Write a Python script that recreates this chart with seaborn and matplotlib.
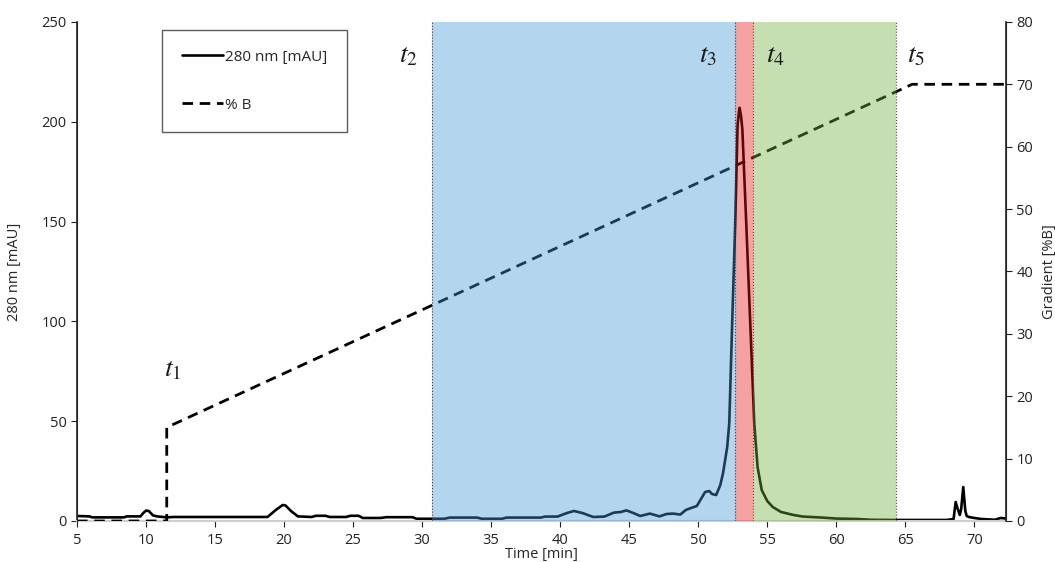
import pandas as pd
import numpy as np
import matplotlib
matplotlib.use("Agg")
import matplotlib.pyplot as plt
import seaborn as sns

# Chromatogram at 280 nm [mAU]
time_min = [5.0, 5.9, 6.1, 8.4, 8.6, 9.6, 9.8, 10.0, 10.2, 10.5, 10.8, 11.5, 12.0,
            18.8, 19.4, 19.9, 20.1, 20.5, 21.0, 22.0, 22.3, 23.0, 23.3, 24.5, 24.8,
            25.4, 25.7, 27.0, 27.4, 29.3, 29.6, 31.6, 32.0, 34.0, 34.3, 35.8, 36.1,
            38.6, 38.9, 39.8, 40.5, 41.0, 41.6, 42.4, 43.2, 43.9, 44.4, 44.8, 45.3,
            45.8, 46.5, 47.2, 47.7, 48.2, 48.7, 49.1, 49.4, 49.9, 50.2, 50.5, 50.8,
            51.0, 51.3, 51.6, 51.8, 52.1, 52.25, 52.46, 52.68, 52.85, 52.95, 53.0,
            53.1, 53.2, 53.48, 53.77, 54.06, 54.3, 54.6, 55.0, 55.4, 56.0, 56.9,
            57.6, 59.0, 60.0, 61.5, 62.5, 64.0, 66.0, 68.0, 68.5, 68.65, 68.8,
            68.95, 69.05, 69.2, 69.35, 69.45, 69.6, 70.0, 70.5, 71.0, 71.5, 71.9, 72.3]
a280 = [2.5, 2.3, 1.8, 1.8, 2.3, 2.3, 4.0, 5.2, 5.0, 2.8, 2.3, 1.8, 2.0,
        2.0, 5.5, 8.0, 7.8, 5.0, 2.3, 2.0, 2.6, 2.6, 2.0, 2.0, 2.6,
        2.6, 1.5, 1.5, 1.9, 1.9, 1.1, 1.1, 1.7, 1.7, 1.1, 1.1, 1.7,
        1.7, 2.2, 2.2, 4.0, 5.0, 4.0, 2.0, 2.2, 4.2, 4.5, 5.3, 4.0,
        2.5, 3.7, 2.3, 3.5, 3.7, 3.2, 5.5, 6.3, 7.5, 11.0, 14.5, 15.0,
        13.5, 13.0, 18.0, 24.0, 37.0, 49.0, 99.0, 149.0, 198.0, 205.0, 207.0,
        203.0, 196.0, 149.0, 99.0, 49.0, 27.0, 15.5, 10.0, 7.0, 4.5, 3.0,
        2.2, 1.7, 1.2, 1.0, 0.6, 0.5, 0.5, 0.5, 1.0, 9.5, 6.0,
        3.0, 6.0, 17.0, 5.0, 2.5, 2.0, 1.5, 1.0, 0.8, 0.6, 1.5, 1.2]

# Gradient program [%B]
grad_time = [5.0, 11.5, 11.5, 65.5, 72.3]
grad_b = [0, 0, 15, 70, 70]

# Fraction windows t2..t5 [min]
t_marks = [30.7, 52.7, 54.0, 64.3]
span_colors = ["#4396D2", "#E81616", "#70B143"]

# t labels: text, time, height on the mAU axis
t_labels = ["$t_1$", "$t_2$", "$t_3$", "$t_4$", "$t_5$"]
t_label_x = [11.9, 29.0, 50.7, 55.6, 65.8]
t_label_y = [76, 233, 233, 233, 233]

sns.set_style("ticks")
plt.rcParams['font.family'] = ['Open Sans', 'DejaVu Sans']
plt.rcParams['mathtext.fontset'] = 'stix'

chrom = pd.DataFrame({"Time": time_min, "A280": a280})
grad = pd.DataFrame({"Time": grad_time, "B": grad_b})

fig = plt.figure(figsize=(10.55, 5.62), dpi=100)
ax = fig.add_axes([0.073, 0.073, 0.8806, 0.888])

sns.lineplot(data=chrom, x="Time", y="A280", ax=ax, color="black", lw=1.9,
             label="280 nm [mAU]", legend=False, sort=False, estimator=None)
ax.set_xlim(5, 72.3)
ax.set_ylim(0, 250)
ax.set_xticks(range(5, 71, 5))
ax.set_yticks(range(0, 251, 50))
ax.set_xlabel("Time [min]", fontsize=10.5, labelpad=-1)
ax.set_ylabel("280 nm [mAU]", fontsize=10.5, labelpad=14)

ax2 = ax.twinx()
sns.lineplot(data=grad, x="Time", y="B", ax=ax2, color="black", lw=2.0,
             linestyle=(0, (3.8, 2.4)), label="% B", legend=False, zorder=2,
             sort=False, estimator=None)
ax2.set_ylim(0, 80)
ax2.set_yticks(range(0, 81, 10))
ax2.set_ylabel("Gradient [%B]", fontsize=10.5, labelpad=6)

# shaded fractions drawn on top so the traces show through darkened
for i in range(3):
    ax2.axvspan(t_marks[i], t_marks[i + 1], color=span_colors[i], alpha=0.4, lw=0, zorder=3)
for t in t_marks:
    ax2.axvline(t, color="#444444", lw=0.8, ls=":", zorder=4)

for txt, x, y in zip(t_labels, t_label_x, t_label_y):
    ax2.text(x, y, txt, fontsize=20, ha="center", va="center", color="#1a1a1a",
             transform=ax.transData, zorder=6)

for a in (ax, ax2):
    a.spines["top"].set_visible(False)
    a.tick_params(labelsize=10.5, length=4, width=0.8, colors="#222222")
ax.spines["bottom"].set_color("#cfcfcf")
ax.spines["bottom"].set_linewidth(1.5)
ax2.spines["bottom"].set_visible(False)
ax.spines["left"].set_linewidth(1.2)
ax2.spines["right"].set_linewidth(1.2)
ax.tick_params(axis="x", pad=5)

h1, l1 = ax.get_legend_handles_labels()
h2, l2 = ax2.get_legend_handles_labels()
leg = ax2.legend(h1 + h2, l1 + l2, loc="upper left", bbox_to_anchor=(0.0915, 0.984),
                 borderaxespad=0, frameon=True, fancybox=False, edgecolor="#333333",
                 fontsize=11, handlelength=2.7, handletextpad=0.1, borderpad=1.3,
                 labelspacing=2.15)
leg.get_frame().set_linewidth(1.0)
leg.set_zorder(5)

fig.savefig("out.png", dpi=100)
